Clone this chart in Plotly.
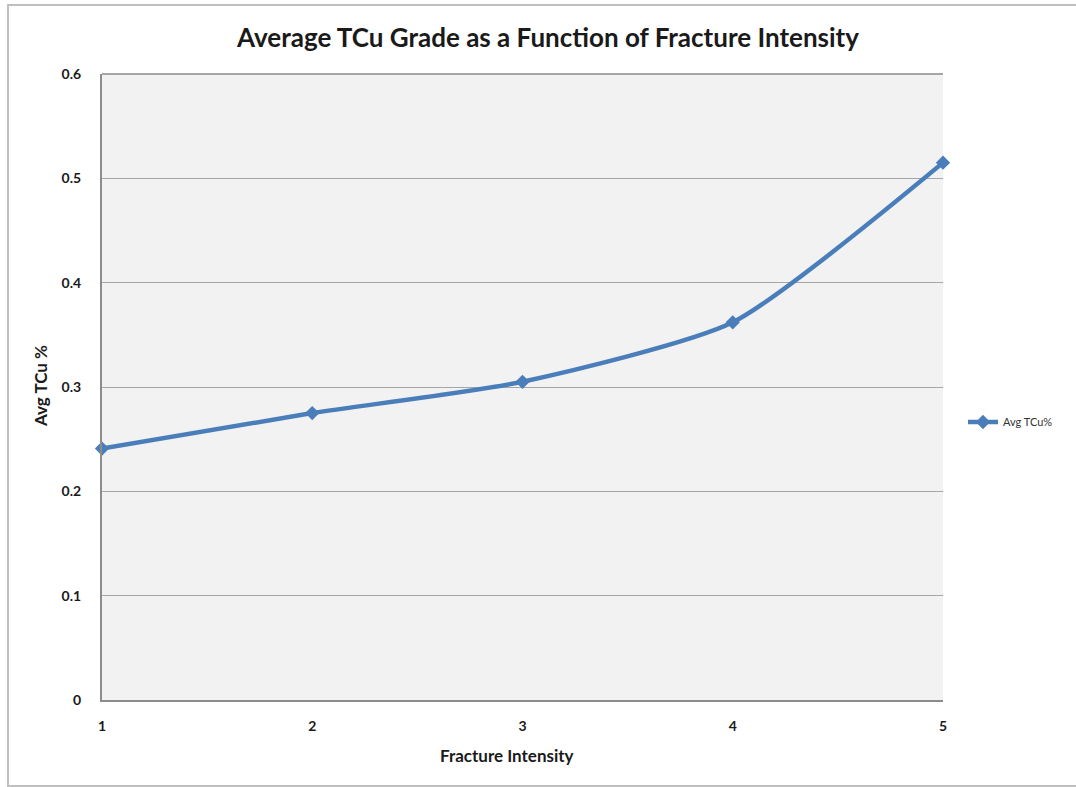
import plotly.graph_objects as go

fracture_intensity = [1, 2, 3, 4, 5]
avg_tcu = [0.241, 0.275, 0.305, 0.362, 0.515]
y_ticks = [0, 0.1, 0.2, 0.3, 0.4, 0.5, 0.6]
y_tick_labels = ["0", "0.1", "0.2", "0.3", "0.4", "0.5", "0.6"]

W, H = 1076, 787
L, R, T, B = 102, 133, 74, 87
pw, ph = W - L - R, H - T - B

def px(xp):
    return (xp - L) / pw

def py(yp):
    return (H - B - yp) / ph

FONT = "Lato"

fig = go.Figure()
fig.add_trace(go.Scatter(
    x=fracture_intensity, y=avg_tcu, name="Avg TCu%",
    mode="lines+markers", cliponaxis=False,
    line=dict(color="#4A7EBB", width=4.5, shape="spline", smoothing=0.6),
    marker=dict(symbol="diamond", size=11, color="#4A7EBB"),
))

fig.update_layout(
    width=W, height=H,
    margin=dict(l=L, r=R, t=T, b=B),
    paper_bgcolor="white", plot_bgcolor="#F2F2F2",
    title=dict(text="<b>Average TCu Grade as a Function of Fracture Intensity</b>",
               xref="container", yref="container",
               x=548 / W, xanchor="center", y=1 - 38 / H, yanchor="middle",
               font=dict(family=FONT, size=26, color="#1a1a1a")),
    xaxis=dict(range=[1, 5], tickvals=fracture_intensity,
               ticktext=[str(v) for v in fracture_intensity],
               showgrid=False, zeroline=False,
               showline=True, linecolor="#8C8C8C", linewidth=2,
               ticks="", ticklabelstandoff=12,
               tickfont=dict(family=FONT, size=14, color="#1a1a1a", weight="bold")),
    yaxis=dict(range=[0, 0.6], tickvals=y_ticks, ticktext=y_tick_labels,
               showgrid=True, gridcolor="#A6A6A6", gridwidth=1, zeroline=False,
               showline=True, linecolor="#8C8C8C", linewidth=2,
               ticks="", ticklabelstandoff=16,
               tickfont=dict(family=FONT, size=14, color="#1a1a1a", weight="bold")),
    showlegend=True,
    legend=dict(x=px(963), y=py(422), xanchor="left", yanchor="middle",
                bgcolor="rgba(0,0,0,0)",
                font=dict(family=FONT, size=11, color="#333333"),
                itemwidth=30),
    annotations=[
        dict(text="<b>Fracture Intensity</b>", xref="paper", yref="paper",
             x=px(507), y=py(755), xanchor="center", yanchor="middle", showarrow=False,
             font=dict(family=FONT, size=17, color="#1a1a1a")),
        dict(text="<b>Avg TCu %</b>", xref="paper", yref="paper", textangle=-90,
             x=px(40), y=py(386), xanchor="center", yanchor="middle", showarrow=False,
             font=dict(family=FONT, size=17, color="#1a1a1a")),
    ],
    shapes=[
        dict(type="rect", xref="paper", yref="paper",
             x0=px(8), x1=px(1080), y0=py(786), y1=py(5),
             line=dict(color="#BFBFBF", width=2), fillcolor="rgba(0,0,0,0)", layer="below"),
        dict(type="line", xref="paper", yref="paper",
             x0=0, x1=1, y0=1, y1=1, line=dict(color="#A6A6A6", width=2)),
    ],
)

fig.write_html("out.html")
